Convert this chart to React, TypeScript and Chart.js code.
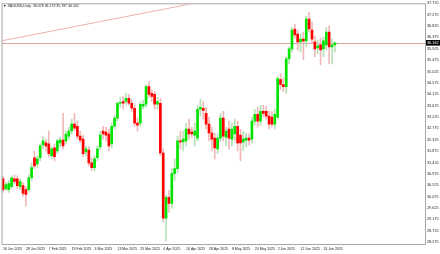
import React, { useEffect, useRef } from 'react';
import { Chart, registerables } from 'chart.js';

Chart.register(...registerables);

const headerTitle = 'XAGUSD,Daily';

const dates: string[] = [
  '16 Jan 2025', '17 Jan 2025', '20 Jan 2025', '21 Jan 2025', '22 Jan 2025', '23 Jan 2025', '24 Jan 2025', '27 Jan 2025',
  '28 Jan 2025', '29 Jan 2025', '30 Jan 2025', '31 Jan 2025', '3 Feb 2025', '4 Feb 2025', '5 Feb 2025', '6 Feb 2025',
  '7 Feb 2025', '10 Feb 2025', '11 Feb 2025', '12 Feb 2025', '13 Feb 2025', '14 Feb 2025', '17 Feb 2025', '18 Feb 2025',
  '19 Feb 2025', '20 Feb 2025', '21 Feb 2025', '24 Feb 2025', '25 Feb 2025', '26 Feb 2025', '27 Feb 2025', '28 Feb 2025',
  '3 Mar 2025', '4 Mar 2025', '5 Mar 2025', '6 Mar 2025', '7 Mar 2025', '10 Mar 2025', '11 Mar 2025', '12 Mar 2025',
  '13 Mar 2025', '14 Mar 2025', '17 Mar 2025', '18 Mar 2025', '19 Mar 2025', '20 Mar 2025', '21 Mar 2025', '24 Mar 2025',
  '25 Mar 2025', '26 Mar 2025', '27 Mar 2025', '28 Mar 2025', '31 Mar 2025', '1 Apr 2025', '2 Apr 2025', '3 Apr 2025',
  '4 Apr 2025', '7 Apr 2025', '8 Apr 2025', '9 Apr 2025', '10 Apr 2025', '11 Apr 2025', '14 Apr 2025', '15 Apr 2025',
  '16 Apr 2025', '17 Apr 2025', '18 Apr 2025', '21 Apr 2025', '22 Apr 2025', '23 Apr 2025', '24 Apr 2025', '25 Apr 2025',
  '28 Apr 2025', '29 Apr 2025', '30 Apr 2025', '1 May 2025', '2 May 2025', '5 May 2025', '6 May 2025', '7 May 2025',
  '8 May 2025', '9 May 2025', '12 May 2025', '13 May 2025', '14 May 2025', '15 May 2025', '16 May 2025', '19 May 2025',
  '20 May 2025', '21 May 2025', '22 May 2025', '23 May 2025', '27 May 2025', '28 May 2025', '29 May 2025', '30 May 2025',
  '2 Jun 2025', '3 Jun 2025', '4 Jun 2025', '5 Jun 2025', '6 Jun 2025', '9 Jun 2025', '10 Jun 2025', '11 Jun 2025',
  '12 Jun 2025', '13 Jun 2025', '16 Jun 2025', '17 Jun 2025', '18 Jun 2025', '19 Jun 2025', '20 Jun 2025', '23 Jun 2025',
  '24 Jun 2025', '25 Jun 2025', '26 Jun 2025', '27 Jun 2025', '30 Jun 2025',
];

const xTickLabels: string[] = [
  '16 Jan 2025', '28 Jan 2025', '7 Feb 2025', '19 Feb 2025', '3 Mar 2025', '13 Mar 2025', '25 Mar 2025', '4 Apr 2025',
  '16 Apr 2025', '28 Apr 2025', '8 May 2025', '20 May 2025', '2 Jun 2025', '12 Jun 2025', '24 Jun 2025',
];

const opens: number[] = [
  30.78, 30.39, 30.35, 30.47, 30.78, 30.78, 30.47, 30.51, 30.35, 30.35,
  30.82, 31.61, 31.37, 31.61, 32.12, 32.20, 32.16, 31.69, 32.00, 31.88,
  32.20, 32.31, 32.28, 32.47, 32.67, 32.94, 32.86, 32.47, 32.35, 31.84,
  31.92, 31.41, 31.22, 31.61, 32.04, 32.67, 32.63, 32.55, 32.16, 32.86,
  33.18, 33.77, 33.84, 33.84, 33.96, 33.77, 33.57, 32.98, 32.98, 33.65,
  33.73, 34.43, 34.16, 34.12, 33.73, 33.77, 31.80, 29.22, 30.04, 29.80,
  30.98, 31.18, 32.28, 32.24, 32.28, 32.75, 32.63, 32.51, 32.39, 33.53,
  33.57, 33.37, 32.94, 32.59, 32.39, 31.96, 32.39, 33.18, 32.43, 32.75,
  32.35, 32.55, 32.86, 32.51, 32.24, 32.31, 32.39, 32.35, 33.06, 33.33,
  33.06, 33.45, 33.45, 33.26, 33.22, 32.94, 33.22, 34.71, 34.51, 34.43,
  35.53, 35.92, 36.71, 36.51, 36.20, 36.31, 36.24, 37.10, 36.67, 36.20,
  35.96, 36.08, 35.92, 36.08, 36.59, 36.00, 36.078,
];

const highs: number[] = [
  30.90, 30.63, 30.71, 30.90, 30.94, 30.90, 30.78, 30.63, 30.47, 30.94,
  31.41, 31.88, 31.69, 32.16, 32.47, 32.35, 32.67, 32.04, 32.16, 32.35,
  32.43, 33.37, 32.67, 32.82, 33.14, 33.37, 33.06, 32.67, 32.51, 32.08,
  32.04, 31.61, 31.69, 32.08, 32.67, 32.86, 32.82, 32.75, 32.98, 33.29,
  33.84, 34.00, 34.04, 34.16, 34.12, 33.92, 33.69, 33.18, 33.84, 33.88,
  34.51, 34.63, 34.31, 34.24, 34.00, 33.96, 31.96, 30.12, 30.31, 31.18,
  31.57, 32.47, 32.67, 32.67, 32.98, 33.14, 32.82, 32.98, 33.69, 33.92,
  33.84, 33.61, 33.22, 32.82, 32.59, 32.55, 33.37, 33.45, 32.82, 33.06,
  32.98, 33.14, 33.06, 32.75, 32.67, 32.59, 32.55, 33.22, 33.53, 33.61,
  33.69, 33.69, 33.65, 33.45, 33.45, 33.53, 34.82, 34.94, 34.78, 35.61,
  36.00, 36.78, 36.90, 36.67, 36.51, 36.59, 37.22, 37.37, 36.98, 36.43,
  36.27, 36.35, 36.39, 36.75, 36.82, 36.31, 36.173,
];

const lows: number[] = [
  30.24, 30.31, 30.24, 30.39, 30.59, 30.39, 30.35, 30.08, 29.69, 30.24,
  30.71, 31.18, 31.22, 31.49, 31.96, 31.88, 31.65, 31.57, 31.49, 31.77,
  32.04, 31.96, 32.16, 32.35, 32.55, 32.67, 32.35, 32.20, 31.65, 31.69,
  31.29, 31.10, 31.10, 31.49, 31.92, 32.35, 32.28, 31.88, 32.00, 32.75,
  33.06, 33.61, 33.53, 33.69, 33.69, 33.45, 32.86, 32.67, 32.86, 33.53,
  33.61, 34.00, 33.84, 33.53, 33.53, 31.69, 29.06, 28.31, 29.45, 29.61,
  30.71, 31.02, 31.96, 31.88, 32.08, 32.35, 32.43, 32.08, 32.28, 33.26,
  33.14, 32.75, 32.28, 31.88, 31.57, 31.77, 32.24, 32.28, 32.08, 31.96,
  32.08, 32.28, 31.88, 31.49, 31.88, 32.04, 32.12, 32.20, 32.90, 32.82,
  32.90, 33.22, 33.14, 32.75, 32.82, 32.75, 33.14, 34.31, 34.24, 34.16,
  35.33, 35.80, 36.35, 35.88, 35.80, 35.49, 36.00, 36.59, 36.12, 35.61,
  35.73, 35.29, 35.61, 35.88, 35.33, 35.33, 35.787,
];

const closes: number[] = [
  30.35, 30.55, 30.59, 30.82, 30.67, 30.51, 30.67, 30.20, 30.16, 30.82,
  31.22, 31.29, 31.57, 32.08, 32.28, 32.08, 31.77, 31.96, 31.65, 32.28,
  32.31, 32.08, 32.55, 32.67, 32.94, 32.78, 32.47, 32.31, 31.77, 31.96,
  31.41, 31.22, 31.57, 31.96, 32.51, 32.55, 32.51, 32.08, 32.86, 33.18,
  33.77, 33.80, 33.77, 33.96, 33.77, 33.57, 32.98, 32.90, 33.73, 33.73,
  34.43, 34.12, 34.04, 33.73, 33.84, 31.80, 29.22, 30.04, 29.80, 30.98,
  31.18, 32.28, 32.24, 32.35, 32.75, 32.55, 32.55, 32.67, 33.53, 33.61,
  33.49, 32.94, 32.59, 32.35, 32.00, 32.39, 33.18, 32.47, 32.67, 32.39,
  32.75, 32.86, 32.20, 32.20, 32.35, 32.39, 32.31, 33.06, 33.33, 33.06,
  33.45, 33.37, 33.26, 32.94, 32.94, 33.33, 34.75, 34.51, 34.43, 35.53,
  35.92, 36.67, 36.47, 36.20, 36.31, 36.24, 37.10, 36.71, 36.31, 35.92,
  36.04, 35.88, 36.24, 36.59, 36.00, 36.08, 36.162,
];

const yTickValues: number[] = [
  28.275, 28.725, 29.175, 29.625, 30.075, 30.525, 30.975, 31.425, 31.875, 32.325, 32.775,
  33.225, 33.675, 34.125, 34.575, 35.025, 35.475, 35.925, 36.375, 36.825, 37.275, 37.725,
];

const totalSlots = 148;
const yMin = 28.197;
const yMax = 37.687;

// trend line anchors (category index, price)
const trendStart = { index: -0.5, price: 36.24 };
const trendEnd = { index: 52, price: 37.40 };

const UP = '#00e400';
const DOWN = '#ff0000';
const UP_WICK = '#b4e2b4';
const DOWN_WICK = '#f0b8b8';
const LINE_PINK = '#eeb0b0';
const FRAME = '#a8a8a8';
const FONT = 'Liberation Sans';

const overlayPlugin = {
  id: 'mt4overlay',
  beforeDatasetsDraw(chart: any) {
    const { ctx, chartArea, scales } = chart;
    const xs = scales.x;
    const ys = scales.y;
    ctx.save();
    ctx.beginPath();
    ctx.rect(chartArea.left, chartArea.top, chartArea.right - chartArea.left, chartArea.bottom - chartArea.top);
    ctx.clip();
    const step = xs.getPixelForValue(1) - xs.getPixelForValue(0);
    const x1 = xs.getPixelForValue(0) + trendStart.index * step;
    const x2 = xs.getPixelForValue(0) + trendEnd.index * step;
    const y1 = ys.getPixelForValue(trendStart.price);
    const y2 = ys.getPixelForValue(trendEnd.price);
    const slope = (y2 - y1) / (x2 - x1);
    const xEnd = x1 + (chartArea.top - 5 - y1) / slope;
    ctx.strokeStyle = LINE_PINK;
    ctx.lineWidth = 1;
    ctx.beginPath();
    ctx.moveTo(x1, y1);
    ctx.lineTo(xEnd, chartArea.top - 5);
    ctx.stroke();
    const last = closes[closes.length - 1];
    const py = Math.round(ys.getPixelForValue(last)) + 0.5;
    ctx.strokeStyle = '#dda0a0';
    ctx.beginPath();
    ctx.moveTo(chartArea.left, py);
    ctx.lineTo(chartArea.right, py);
    ctx.stroke();
    ctx.restore();
  },
  afterDraw(chart: any) {
    const { ctx, chartArea, scales } = chart;
    const ys = scales.y;
    ctx.save();
    ctx.strokeStyle = FRAME;
    ctx.lineWidth = 1;
    ctx.strokeRect(chartArea.left + 0.5, chartArea.top - 0.5, chartArea.right - chartArea.left, chartArea.bottom - chartArea.top + 1);
    const last = closes[closes.length - 1];
    const py = ys.getPixelForValue(last);
    ctx.fillStyle = '#000';
    ctx.fillRect(chartArea.right + 1, py - 2.8, 15, 5.6);
    ctx.fillStyle = '#fff';
    ctx.font = `3.8px "${FONT}"`;
    ctx.textBaseline = 'middle';
    ctx.textAlign = 'left';
    ctx.fillText(last.toFixed(3), chartArea.right + 2, py);
    const n = closes.length - 1;
    ctx.fillStyle = '#222';
    ctx.font = `3.5px "${FONT}"`;
    ctx.fillText(
      `\u25BC ${headerTitle}  ${opens[n].toFixed(3)} ${highs[n].toFixed(3)} ${lows[n].toFixed(3)} ${closes[n].toFixed(3)}`,
      chartArea.left + 1.5,
      chartArea.top + 1.5,
    );
    ctx.restore();
  },
};

export default function App() {
  const ref = useRef<HTMLCanvasElement>(null);
  useEffect(() => {
    document.body.style.margin = '0';
    const slotLabels: string[] = [];
    for (let i = 0; i < totalSlots; i++) slotLabels.push(i < dates.length ? dates[i] : '');
    const tickIdx = xTickLabels.map((l) => dates.indexOf(l)).filter((i) => i >= 0);
    const bodyColors = opens.map((o, i) => (closes[i] >= o ? UP : DOWN));
    const wickColors = opens.map((o, i) => (closes[i] >= o ? UP_WICK : DOWN_WICK));

    const chart = new Chart(ref.current as HTMLCanvasElement, {
      type: 'bar',
      data: {
        labels: slotLabels,
        datasets: [
          {
            label: 'body',
            data: opens.map((o, i) => [o, closes[i]]) as any,
            backgroundColor: bodyColors,
            barThickness: 2,
            minBarLength: 1,
            grouped: false,
            order: 0,
            borderWidth: 0,
          } as any,
          {
            label: 'wick',
            data: lows.map((l, i) => [l, highs[i]]) as any,
            backgroundColor: wickColors,
            barThickness: 1,
            grouped: false,
            order: 1,
            borderWidth: 0,
          } as any,
        ],
      },
      options: {
        responsive: false,
        animation: false,
        devicePixelRatio: 1,
        layout: { padding: { left: 0, right: 0, top: 2, bottom: 0 } },
        plugins: { legend: { display: false }, tooltip: { enabled: false } },
        scales: {
          x: {
            type: 'category',
            offset: true,
            grid: { display: false, drawTicks: false },
            border: { display: false },
            ticks: {
              autoSkip: false,
              maxRotation: 0,
              minRotation: 0,
              align: 'start',
              padding: 3,
              color: '#222',
              font: { family: FONT, size: 3.5 },
            },
            afterBuildTicks: (scale: any) => {
              scale.ticks = tickIdx.map((v) => ({ value: v }));
            },
            afterFit: (scale: any) => {
              scale.height = 10;
            },
          } as any,
          y: {
            type: 'linear',
            position: 'right',
            min: yMin,
            max: yMax,
            grid: { display: false, drawTicks: false },
            border: { display: false },
            ticks: {
              padding: 2,
              color: '#222',
              font: { family: FONT, size: 3.8 },
              callback: (v: any) => Number(v).toFixed(3),
            },
            afterBuildTicks: (scale: any) => {
              scale.ticks = yTickValues.map((v) => ({ value: v }));
            },
            afterFit: (scale: any) => {
              scale.width = 15;
            },
          } as any,
        },
      },
      plugins: [overlayPlugin],
    });
    return () => chart.destroy();
  }, []);
  return (
    <div style={{ width: 440, height: 254 }}>
      <canvas ref={ref} width={440} height={254} style={{ display: 'block' }} />
    </div>
  );
}
